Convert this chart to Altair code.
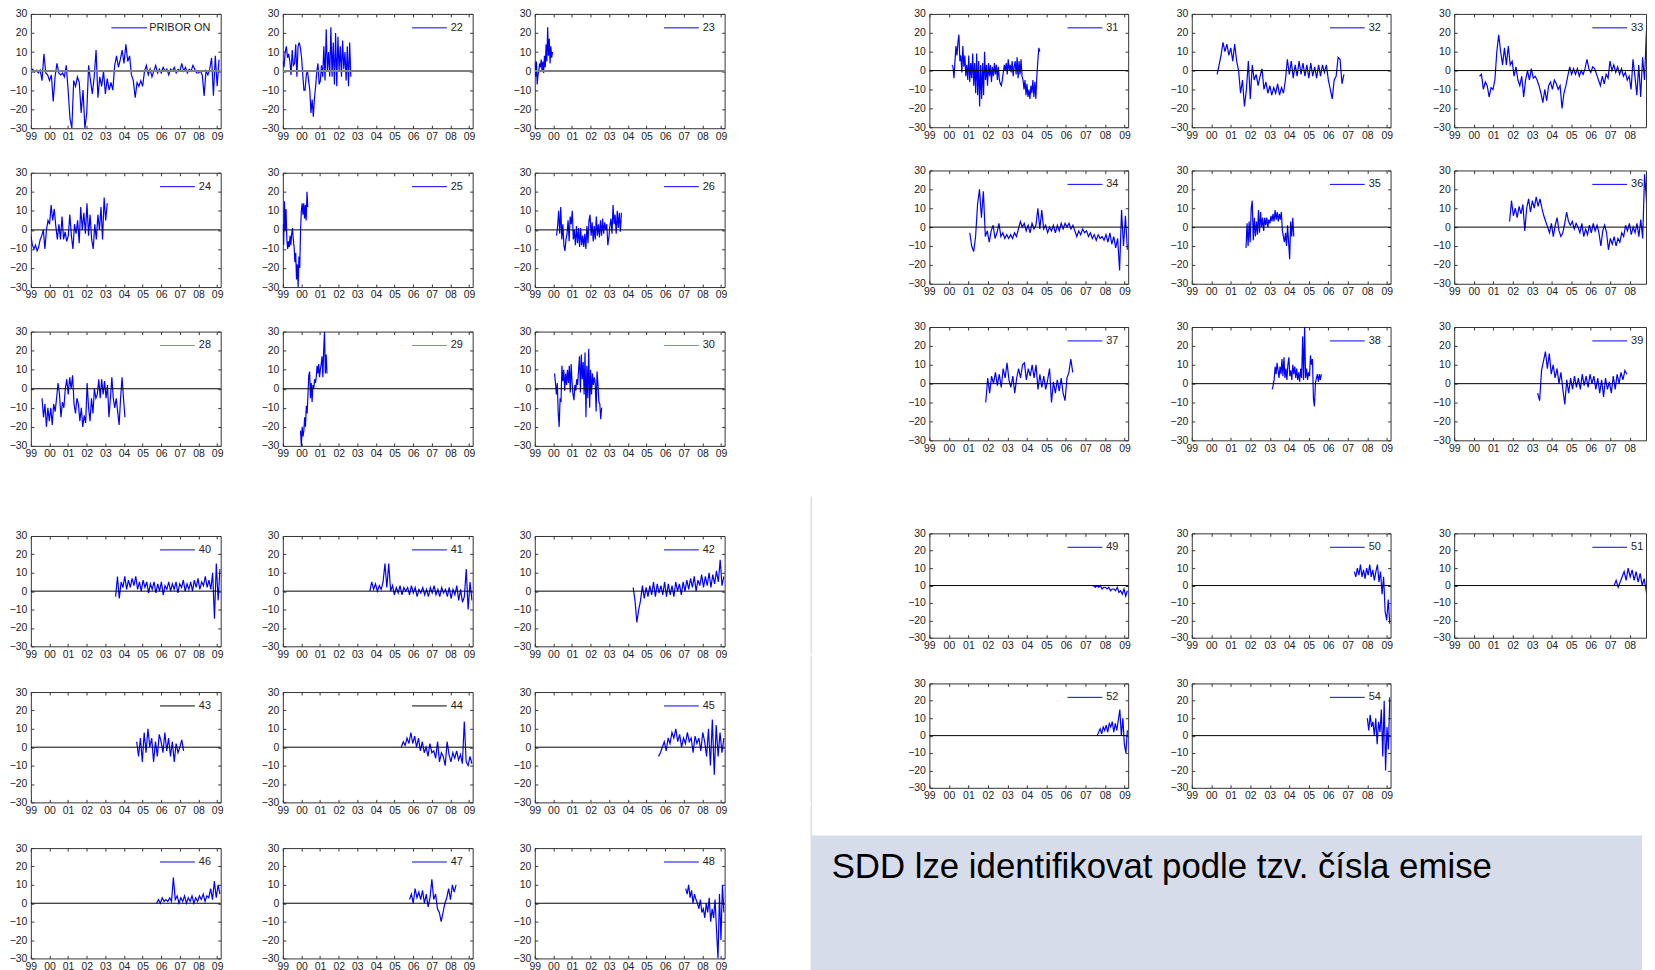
import altair as alt
import pandas as pd

# ---------------- axes ----------------
X_DOMAIN = [1999.0, 2009.19]
X_TICKS = [1999, 2000, 2001, 2002, 2003, 2004, 2005, 2006, 2007, 2008, 2009]
X_TICK_LABELS = ["99", "00", "01", "02", "03", "04", "05", "06", "07", "08", "09"]
Y_DOMAIN = [-30, 30]
Y_TICKS = [-30, -20, -10, 0, 10, 20, 30]

# ---------------- series (span in years, values in bp) ----------------
PRIBOR_ON_SPAN = (1999.0, 2009.1)
PRIBOR_ON = [0, 1, -0.5, 0.5, -1, 0.5, -5, 9, -1, -2,
             -5, -2, -16, -3, 4, -1, -2, -1, -3, 3,
             -10, -25, -30, -5, -8, -3, -6, -22, -10, -30,
             -22, 3, -5, -12, -3, 11, -14, -3, -8, 0,
             -12, -4, -10, -6, -10, 3, 8, 2, 6, 11,
             4, 14, 5, 8, -2, -5, -14, -6, -8, -5,
             -8, 0, 3, -2, 1, -3, 0, 3, -1, 1,
             -1, 2, 0, 1, -2, 1, 0, 2, -1, 1,
             0, 4, 0, 2, -1, 1, 0, 3, 1, -1,
             -1, 0, -2, -13, 0, -2, 1, 7, -13, 8,
             -8, 6]
E22_SPAN = (1999.0, 2002.65)
E22 = [5, 2, 10, 13, 7, 9, 5, -2, 11, 3, 4, 14, -3, 13, 15, 12, 7, -2, -10, -10,
       -2, 0, -5, -10, -22, -15, -24, -14, -8, 0, 4, -7, -5, 3, -3, 13, -5, 22, 0, 10,
       -3, 23, -3, 15, -7, 20, -8, 18, 0, 13, -3, 16, 1, 10, -5, 13, -8, 15, -3]
E23_SPAN = (1999.0, 1999.95)
E23 = [5, -3, 5, -7, -2, 0, 4, 2, 6, 0, 5, -1, 8, 2, 14, 5, 23, 8, 17, 4, 13, 7, 10]
E24_SPAN = (1999.0, 2003.1)
E24 = [-3, -8, -10, -8, -11, -9, -5, -3, 0, -10, 0, 5, 3, 13, 5, 11, 2, -5, 3, -5,
       7, -5, -1, -6, -3, 8, -3, -10, 3, -2, 5, -7, 12, 0, 9, -2, 14, -3, 8, -5,
       -10, 3, -5, 8, 0, 12, -5, 17, 5, 14]
E25_SPAN = (1999.0, 2000.34)
E25 = [3, -8, 15, 0, 11, -5, -10, -6, -9, -3, -8, -2, 1, -5, -9, -17, -12, -26, -18, -30,
       -14, -20, -1, 10, 14, 8, 14, 6, 13, 5, 20, 12]
E26_SPAN = (2000.17, 2003.65)
E26 = [-3, 2, 10, -2, 12, -5, 3, -8, -11, -5, -2, 5, -6, 7, 3, 10, -5, 0, -8, 2,
       -7, 1, -9, 1, -8, -3, -9, -2, -10, 2, -7, 5, 8, -3, 4, -6, 2, -5, 7, -3,
       3, -4, 5, -3, 6, -2, 4, 0, 3, -8, -4, 2, 6, -2, 13, 3, 8, -2, 10, 1, 9, -1, 9]
E28_SPAN = (1999.6, 2004.05)
E28 = [-5, -15, -8, -20, -10, -17, -10, -19, -8, -12, -5, 3, -3, -15, -7, -10, 0, 5, -3, 6,
       0, 7, -8, -13, -5, -8, -17, -10, -20, -14, -18, 3, -10, -17, -5, -13, 0, -5, -3, 5,
       -5, 5, -3, 4, -5, 2, -15, -5, 6, -5, -10, -5, -12, -19, -5, 6, -5, -15]
E29_SPAN = (1999.95, 2001.37)
E29 = [-22, -30, -20, -25, -22, -15, -20, -9, -13, -3, 7, 9, -5, 3, -7, 2, 0, 5, 3, 6,
       12, 8, 13, 6, 10, 13, 17, 6, 20, 30, 8, 18, 8]
E30_SPAN = (2000.06, 2002.59)
E30 = [8, 3, -3, 3, -13, -20, -5, -7, 12, 4, 10, -1, 8, 2, 10, 3, 12, -2, 13, 3,
       -3, -6, 2, -1, 5, 2, 10, 17, -2, 18, 5, 14, -3, 19, -15, 12, -5, 21, -10, 10,
       -3, 8, 2, 6, 3, -12, 9, 2, -7, -8, -16, -10]
E31_SPAN = (2000.16, 2004.66)
E31 = [3, 2, -4, 5, 13, 8, 15, 19, 5, 8, -1, 13, 2, 8, -3, 3, -5, 8, -6, 4,
       -4, 9, -8, 4, -12, 9, -13, 5, -19, 3, -15, 4, -13, 10, -5, 3, -8, 4, -3, 3,
       -6, 2, -3, 4, -2, 3, -5, 2, -5, -7, -8, -5, -1, 3, 0, 4, -2, 6, 0, 3,
       -1, 5, -3, 2, 5, -2, 7, -4, 5, -2, 6, -3, -5, -10, -5, -13, -7, -14, -10, -15,
       -8, -12, -5, -14, -6, -15, -3, 5, 12, 10]
E32_SPAN = (2000.3, 2006.8)
E32 = [-2, 3, 8, 15, 10, 14, 8, 12, 5, 14, 5, 0, -12, -5, -19, -10, 5, -15, 3, -5,
       -2, -8, -3, 1, -10, -6, -12, -8, -13, -9, -12, -7, -13, -9, -12, -5, 6, -2, 5, -4,
       3, -3, 5, -2, 4, -3, 3, -4, 4, -3, 2, -4, 3, -3, 3, -1, 3, -5, -10, -15,
       -5, -3, 7, 6, -7, -2]
E33_SPAN = (2000.3, 2009.15)
E33 = [-3, -2, -10, -6, -8, -14, -9, -10, -5, 10, 19, 10, 3, 12, 3, 13, 3, 5, -3, 2,
       -5, -8, -3, -14, -5, 0, -5, 1, -4, -3, -5, -8, -12, -17, -10, -16, -8, -6, -10, -5,
       -7, -10, -8, -20, -12, -8, -3, 2, -2, 1, -2, 1, -3, 0, -2, 1, 6, 1, -1, 2,
       1, -2, -5, -8, -3, -7, -2, -4, 5, 0, 3, -1, 2, -2, 1, -3, -1, -5, -3, -10,
       6, -3, -13, 3, -14, 7, -5, 21, -10, 15, -12]
E34_SPAN = (2001.07, 2009.15)
E34 = [-3, -10, -13, -5, 12, 20, 5, 19, -5, -2, -8, -2, 1, -6, -3, 2, -5, -3, -6, -4,
       -6, -4, -6, -3, -5, -1, 3, 0, 2, -2, 1, -3, 2, -1, 1, 10, -1, 9, -1, 1,
       -3, 0, -2, 1, -3, 1, -2, 2, -1, 2, 0, 2, -1, 1, -2, -5, -2, -4, -1, -3,
       -2, -5, -3, -6, -4, -7, -4, -6, -5, -7, -4, -8, -3, -9, -5, -11, -6, -23, 9, -10,
       6, -12]
E35_SPAN = (2001.78, 2004.23)
E35 = [-11, 2, -10, 3, -8, 10, 14, -7, 5, -5, 3, -4, 9, -3, 8, 0, 5, -2, 5, 1,
       5, 0, 4, 2, 6, 3, 7, 3, 9, 4, 8, 3, 7, 4, 8, -2, -5, -8, -3, -10,
       1, -8, -17, 3, -5, 5, -5]
E36_SPAN = (2001.84, 2009.15)
E36 = [3, 14, 6, 10, 5, 11, 7, 12, -2, 10, 15, 8, 14, 10, 16, 11, 15, 10, 6, 3,
       0, -3, 2, -5, 1, 5, -2, -5, -3, 2, 8, 3, 1, 3, -1, 2, 0, -3, 2, -5,
       -1, -4, 1, -3, 2, -2, 1, -3, -10, -2, 1, -3, -12, -6, -9, -5, -10, -6, -8, -3,
       -5, 1, -2, 2, -4, 0, -3, 2, -5, 4, -6, 28, 14, -11, 5, -5]
E37_SPAN = (2001.89, 2006.35)
E37 = [-10, 3, -5, 4, 0, 6, -1, 5, -2, 8, 3, 11, 2, -2, 4, -5, 3, 8, 3, 10,
       11, 2, 8, 4, 10, 3, 10, -3, 5, -2, 4, -3, 2, 8, -10, 1, -5, 2, -4, 3,
       -5, -9, 3, 6, 13, 6]
E38_SPAN = (2003.12, 2005.64)
E38 = [-3, -1, 2, 9, 5, 11, 7, 3, 9, 5, 13, 4, 14, 3, 8, 2, 10, 14, 4, 7,
       2, 10, 5, 9, 3, 8, 2, 6, 1, 8, 3, 25, 2, 30, 3, 8, 2, 6, 4, 15,
       10, 13, -8, -12, 0, 3, 5, 1, 5, 2, 5]
E39_SPAN = (2003.28, 2007.85)
E39 = [-5, -9, 7, 12, 17, 8, 16, 5, 10, 3, 8, 0, 6, -3, -11, 2, -5, 3, -3, 4,
       -2, 3, -3, 5, -1, 4, -2, 5, 0, 4, -3, 3, -5, 2, -7, 3, -3, 1, -5, 4,
       -3, 5, 0, 6, 2, 7, 5]
E40_SPAN = (2003.55, 2009.15)
E40 = [-3, 8, -4, 5, 2, 8, 1, 6, 2, 7, 3, 8, 1, 5, 0, 6, 2, 5, -1, 4,
       1, 5, -1, 4, 0, 5, -2, 3, 1, 5, 0, 4, 1, 5, -1, 4, 2, 6, 0, 4,
       1, 5, 0, 6, 2, 7, 1, 5, 3, 8, 2, 6, 1, 10, -15, 15, -5, 12]
E41_SPAN = (2003.67, 2009.15)
E41 = [0, 5, 1, 4, 0, 3, 1, 5, 15, 2, 15, 0, 3, -2, 2, -1, 3, -2, 2, 0,
       2, -2, 3, -1, 2, -3, 1, -1, 2, -2, 1, -3, 2, -1, 3, -2, 1, -3, 2, -1,
       1, -3, 2, -4, 1, -2, 3, -5, 1, -6, -3, 12, -10, 5, -5]
E42_SPAN = (2004.28, 2009.15)
E42 = [2, -5, -17, -10, -5, 3, -4, 2, -3, 3, -2, 5, -3, 4, -1, 3, -2, 5, -3, 4,
       -2, 3, -3, 5, 0, 4, -2, 5, 0, 6, 1, 7, 2, 8, 0, 6, 3, 9, 2, 8,
       3, 10, 2, 9, 4, 11, 5, 17, 3, 8]
E43_SPAN = (2004.68, 2007.2)
E43 = [3, -5, 5, -8, 8, -3, 10, 0, 5, -8, 3, -5, 7, 3, -3, 8, -2, 5, -5, 3,
       -8, 2, -3, 0, 4, -2]
E44_SPAN = (2005.36, 2009.15)
E44 = [0, 3, 1, 5, 2, 8, 2, 6, 0, 5, -2, 3, -3, 0, -5, 2, -3, -2, -6, 3,
       -8, -3, -5, -10, 3, -4, -8, -3, -6, -2, -7, -4, -9, 14, -8, -10, -5, -9]
E45_SPAN = (2005.64, 2009.15)
E45 = [-5, -3, 0, 3, -2, 5, 2, 8, 5, 10, 3, 7, 0, 5, 2, 8, 3, 5, -3, 6,
       2, 5, -2, 8, 3, -5, 10, -10, 15, -15, 12, -5, 8, -3, 5]
E46_SPAN = (2005.75, 2009.15)
E46 = [0, 2, 0, 3, 1, 2, 1, 3, 1, 14, 2, 4, 0, 3, 1, 4, 0, 3, 1, 4,
       0, 3, 1, 4, 2, 5, 1, 4, 3, 8, 2, 12, 3, 10, 5]
E47_SPAN = (2005.8, 2008.3)
E47 = [2, 5, 0, 8, 3, 6, 2, 7, 0, 5, -2, 3, 13, 2, 5, -3, -5, -10, -5, 0,
       3, 8, 2, 10, 6, 10]
E48_SPAN = (2007.1, 2009.15)
E48 = [8, 5, 10, 3, 7, 0, 5, 2, 0, -3, 2, -5, -3, -8, 0, -5, 3, -10, -3, -8,
       2, -15, -30, 5, -20, 10, -5]
E49_SPAN = (2007.33, 2009.15)
E49 = [0, 0, -1, 0, -1, 0, -2, -1, -1, -2, -1, -3, -2, -2, -3, -1, -4, -3, -5, -2,
       -6, -3]
E50_SPAN = (2007.33, 2009.15)
E50 = [8, 5, 10, 6, 12, 5, 9, 4, 10, 6, 12, 5, 9, 3, 8, 12, 2, 8, -5, 5,
       -15, -20, -8, -22]
E51_SPAN = (2007.2, 2009.15)
E51 = [0, 3, -1, 2, 5, 8, 3, 10, 5, 9, 3, 8, 2, 7, 0, 4, -3, -10, -5, -12]
E52_SPAN = (2007.6, 2009.15)
E52 = [0, 2, 4, 1, 5, 3, 6, 2, 7, 5, 8, 2, 7, 3, 9, 15, 0, 10, -5, -10, 3]
E54_SPAN = (2008.0, 2009.15)
E54 = [10, 3, 12, 5, 8, 0, 10, -5, 8, 2, 15, -12, 20, -20, 5, -8, 22]

BOX_TEXT = "SDD lze identifikovat podle tzv. čísla emise"

# ---------------- styling ----------------
FONT = "Liberation Sans"
BLUE = "#0000ff"
LIGHT_BLUE = "#7f7fff"
AXIS_COLOR = "#333333"
TEXT_COLOR = "#222222"
BOX_COLOR = "#d6dce9"
SEP_COLOR = "#cfcfcf"
LABEL_EXPR = "[" + ",".join("'%s'" % s for s in X_TICK_LABELS) + "][datum.value - 1999]"

ONE = pd.DataFrame({"k": [0]})

PAD_L, PAD_R, PAD_T, PAD_B = 22, 6, 6, 16


def make_panel(label, span, vals, W, H, legend_color=BLUE, zero_color="#000000",
               zero_width=1.0, legend_x=None, extra=(), cut_w=None):
    """cut_w: panel whose right part falls off the page (plot kept to cut_w px)."""
    t0, t1 = span
    n = len(vals)
    df = pd.DataFrame({"t": [t0 + (t1 - t0) * i / (n - 1) for i in range(n)], "v": vals})
    full_w = W
    if cut_w is not None:
        x_dom = [X_DOMAIN[0], X_DOMAIN[0] + (X_DOMAIN[1] - X_DOMAIN[0]) * cut_w / W]
        x_vals = [v for v in X_TICKS if v <= x_dom[1] - 0.3]
        W = cut_w
        y_dash = [3, 10000]
        pad_r = 0
    else:
        x_dom = X_DOMAIN
        x_vals = X_TICKS
        y_dash = [3, W - 6, 3, W]
        pad_r = PAD_R
    xs = alt.Scale(domain=x_dom, nice=False, zero=False)
    ys = alt.Scale(domain=Y_DOMAIN, nice=False, zero=False)
    x_axis = alt.Axis(values=x_vals, labelExpr=LABEL_EXPR, title=None, domain=False,
                      ticks=False, grid=True, gridColor=AXIS_COLOR, gridOpacity=1,
                      gridWidth=1, gridDash=[3, H - 6, 3, H], labelFont=FONT,
                      labelFontSize=10.5, labelColor=TEXT_COLOR, labelPadding=3,
                      labelFlush=False, labelOverlap=False)
    y_axis = alt.Axis(values=Y_TICKS, format="d", title=None, domain=False, ticks=False,
                      grid=True, gridColor=AXIS_COLOR, gridOpacity=1, gridWidth=1,
                      gridDash=y_dash, labelFont=FONT, labelFontSize=10.5,
                      labelColor=TEXT_COLOR, labelPadding=4, labelFlush=False,
                      labelOverlap=False)
    x_enc = alt.X("t:Q", scale=xs, axis=x_axis)
    y_enc = alt.Y("v:Q", scale=ys, axis=y_axis)
    frame = alt.Chart(ONE).mark_rule(strokeWidth=0, opacity=0).encode(
        x=alt.value(-PAD_L), x2=alt.value(W + pad_r),
        y=alt.value(-PAD_T), y2=alt.value(H + PAD_B))
    series = alt.Chart(df).mark_line(color=BLUE, strokeWidth=1.2, clip=True).encode(
        x=x_enc, y=y_enc)
    zero = alt.Chart(pd.DataFrame({"v": [0]})).mark_rule(
        color=zero_color, strokeWidth=zero_width).encode(y=y_enc)
    if legend_x is None:
        legend_x = (full_w - 61, full_w - 26, full_w - 22)
    lx0, lx1, tx = legend_x
    leg_line = alt.Chart(ONE).mark_rule(color=legend_color, strokeWidth=1).encode(
        x=alt.value(lx0), x2=alt.value(lx1), y=alt.value(14))
    leg_text = alt.Chart(ONE).mark_text(align="left", baseline="middle", font=FONT,
                                        fontSize=11, color=TEXT_COLOR).encode(
        x=alt.value(tx), y=alt.value(14), text=alt.value(label))
    layers = [frame, series, zero, leg_line, leg_text] + list(extra)
    return alt.layer(*layers).properties(width=W, height=H)


def sep_segment(y0, y1):
    return alt.Chart(ONE).mark_rect(color=SEP_COLOR).encode(
        x=alt.value(-119.5), x2=alt.value(-118.5), y=alt.value(y0), y2=alt.value(y1))


# left block dimensions
WL, HTL, HBL = 191, 115, 111
# right block dimensions (third column falls off the page edge)
WR, HTR, HBR = 200, 114, 105
CUT = 193

tl_rows = [
    [make_panel("PRIBOR ON", PRIBOR_ON_SPAN, PRIBOR_ON, WL, HTL, zero_color="#808080",
                zero_width=2, legend_x=(81, 117, 119)),
     make_panel("22", E22_SPAN, E22, WL, HTL, zero_color="#808080", zero_width=2),
     make_panel("23", E23_SPAN, E23, WL, HTL, zero_color="#808080", zero_width=2)],
    [make_panel("24", E24_SPAN, E24, WL, HTL),
     make_panel("25", E25_SPAN, E25, WL, HTL),
     make_panel("26", E26_SPAN, E26, WL, HTL)],
    [make_panel("28", E28_SPAN, E28, WL, HTL, legend_color=LIGHT_BLUE),
     make_panel("29", E29_SPAN, E29, WL, HTL, legend_color=LIGHT_BLUE),
     make_panel("30", E30_SPAN, E30, WL, HTL, legend_color=LIGHT_BLUE)],
]
bl_rows = [
    [make_panel("40", E40_SPAN, E40, WL, HBL),
     make_panel("41", E41_SPAN, E41, WL, HBL),
     make_panel("42", E42_SPAN, E42, WL, HBL)],
    [make_panel("43", E43_SPAN, E43, WL, HBL, legend_color="#000000"),
     make_panel("44", E44_SPAN, E44, WL, HBL, legend_color="#000000"),
     make_panel("45", E45_SPAN, E45, WL, HBL)],
    [make_panel("46", E46_SPAN, E46, WL, HBL),
     make_panel("47", E47_SPAN, E47, WL, HBL),
     make_panel("48", E48_SPAN, E48, WL, HBL)],
]
tr_rows = [
    [make_panel("31", E31_SPAN, E31, WR, HTR),
     make_panel("32", E32_SPAN, E32, WR, HTR),
     make_panel("33", E33_SPAN, E33, WR, HTR, cut_w=CUT)],
    [make_panel("34", E34_SPAN, E34, WR, HTR),
     make_panel("35", E35_SPAN, E35, WR, HTR),
     make_panel("36", E36_SPAN, E36, WR, HTR, cut_w=CUT)],
    [make_panel("37", E37_SPAN, E37, WR, HTR),
     make_panel("38", E38_SPAN, E38, WR, HTR),
     make_panel("39", E39_SPAN, E39, WR, HTR, cut_w=CUT)],
]
br_rows = [
    [make_panel("49", E49_SPAN, E49, WR, HBR, extra=[sep_segment(-37, HBR + PAD_B)]),
     make_panel("50", E50_SPAN, E50, WR, HBR),
     make_panel("51", E51_SPAN, E51, WR, HBR, cut_w=CUT)],
    [make_panel("52", E52_SPAN, E52, WR, HBR, extra=[sep_segment(-28, HBR + PAD_B)]),
     make_panel("54", E54_SPAN, E54, WR, HBR)],
]

box_bg = alt.Chart(ONE).mark_rect(color=BOX_COLOR).encode(
    x=alt.value(-119.5), x2=alt.value(717), y=alt.value(0), y2=alt.value(136))
box_txt = alt.Chart(ONE).mark_text(align="left", baseline="middle", font=FONT,
                                   fontSize=35, color="#000000").encode(
    x=alt.value(-98.3), y=alt.value(32), text=alt.value(BOX_TEXT))
box = alt.layer(box_bg, sep_segment(-31, 0), box_txt).properties(
    width=200, height=136, view=alt.ViewBackground(strokeOpacity=0, fillOpacity=0))

tl = alt.vconcat(*[alt.hconcat(*r, spacing=32.5) for r in tl_rows], spacing=20.8)
bl = alt.vconcat(*[alt.hconcat(*r, spacing=32.5) for r in bl_rows], spacing=22)
tr = alt.vconcat(*[alt.hconcat(*r, spacing=34) for r in tr_rows], spacing=19.5)
br = alt.vconcat(*[alt.hconcat(*r, spacing=34) for r in br_rows], box, spacing=0)

left_col = alt.vconcat(tl, bl, spacing=66.25)
right_col = alt.vconcat(tr, br, spacing=38.6)

chart = alt.hconcat(left_col, right_col, spacing=79,
                    padding={"left": 0, "top": -4, "right": 0, "bottom": 0},
                    background="#ffffff").configure_view(
    stroke=AXIS_COLOR, strokeWidth=1)

chart.save("out.html", embed_options={"renderer": "svg", "actions": False})
